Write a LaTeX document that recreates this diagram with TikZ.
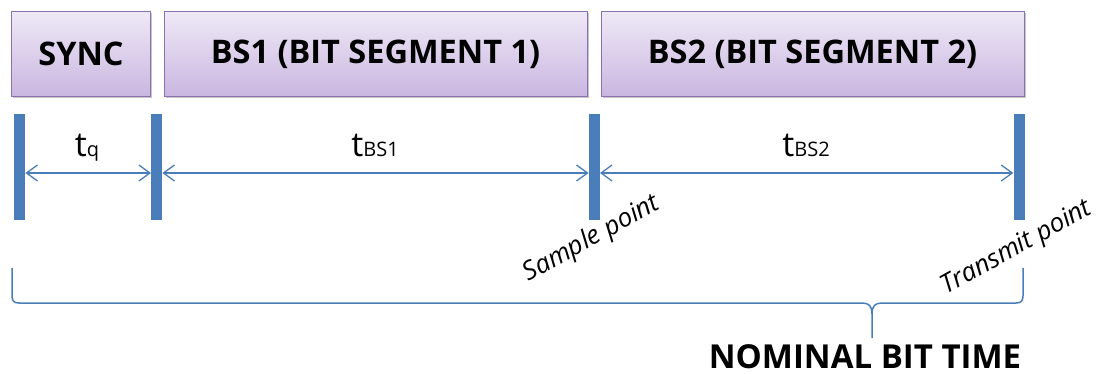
\documentclass[tikz,border=0pt]{standalone}
\usepackage{fontspec}
\setmainfont{Open Sans}
\usetikzlibrary{arrows.meta,shadows}
\definecolor{barblue}{HTML}{4A7EBB}
\definecolor{boxtop}{HTML}{EEE9F6}
\definecolor{boxbot}{HTML}{CAB6E0}
\definecolor{boxline}{HTML}{8B72AE}
\begin{document}
\begin{tikzpicture}[x=1pt,y=-1pt,
  segbox/.style={draw=boxline, line width=1pt, top color=boxtop, bottom color=boxbot,
    minimum height=85pt, inner sep=0pt, font=\fontsize{32.5}{32.5}\selectfont\bfseries,
    drop shadow={shadow xshift=1.5pt, shadow yshift=-2pt, fill=black!45, opacity=0.5}},
  bar/.style={fill=barblue, minimum width=11pt, minimum height=106pt, inner sep=0pt},
  span/.style={draw=barblue, line width=1.3pt,
    {Straight Barb[length=11pt,width=16pt,line width=1.3pt]}-{Straight Barb[length=11pt,width=16pt,line width=1.3pt]}},
  tlabel/.style={font=\fontsize{34}{34}\selectfont, anchor=base, inner sep=0pt},
  pointlabel/.style={font=\fontsize{26}{26}\selectfont\itshape, rotate=29, anchor=south east, inner sep=1pt},
  bracel/.style={draw=barblue, line width=1.5pt},
  title/.style={font=\fontsize{33}{33}\selectfont\bfseries, anchor=base, inner sep=0pt}
]
\useasboundingbox (0,0) rectangle (1106,374);
% segment boxes
\node[segbox, minimum width=139pt] (sync) at (81,54) {SYNC};
\node[segbox, minimum width=423pt] (bs1) at (375.5,54) {BS1 (BIT SEGMENT 1)};
\node[segbox, minimum width=423pt] (bs2) at (812.5,54) {BS2 (BIT SEGMENT 2)};
% bars
\node[bar] (b1) at (19.7,167) {};
\node[bar] (b2) at (156.7,167) {};
\node[bar] (b3) at (594.3,167) {};
\node[bar] (b4) at (1019,167) {};
% spans
\draw[span] ([yshift=-6pt]b1.east) -- ([yshift=-6pt]b2.west);
\draw[span] ([yshift=-6pt]b2.east) -- ([yshift=-6pt]b3.west);
\draw[span] ([yshift=-6pt]b3.east) -- ([yshift=-6pt]b4.west);
% labels
\node[tlabel] (lq) at (87,157) {t{\fontsize{20}{20}\selectfont q}};
\node[tlabel] (lbs1) at (375,157) {t{\fontsize{20}{20}\selectfont BS1}};
\node[tlabel] (lbs2) at (806,157) {t{\fontsize{20}{20}\selectfont BS2}};
\node[pointlabel] (sp) at (666,214) {Sample point};
\node[pointlabel] (tp) at (1098,219) {Transmit point};
% brace
\draw[bracel] (12,268) -- (12,296) .. controls (12,301) and (14,303) .. (19,303)
  -- (862,303) .. controls (869,303) and (872,306) .. (872,314) -- (872,338)
  (872,314) .. controls (872,306) and (875,303) .. (882,303)
  -- (1016,303) .. controls (1021,303) and (1023,301) .. (1023,296) -- (1023,268);
\node[title] (nbt) at (865,368) {NOMINAL BIT TIME};
\end{tikzpicture}
\end{document}
